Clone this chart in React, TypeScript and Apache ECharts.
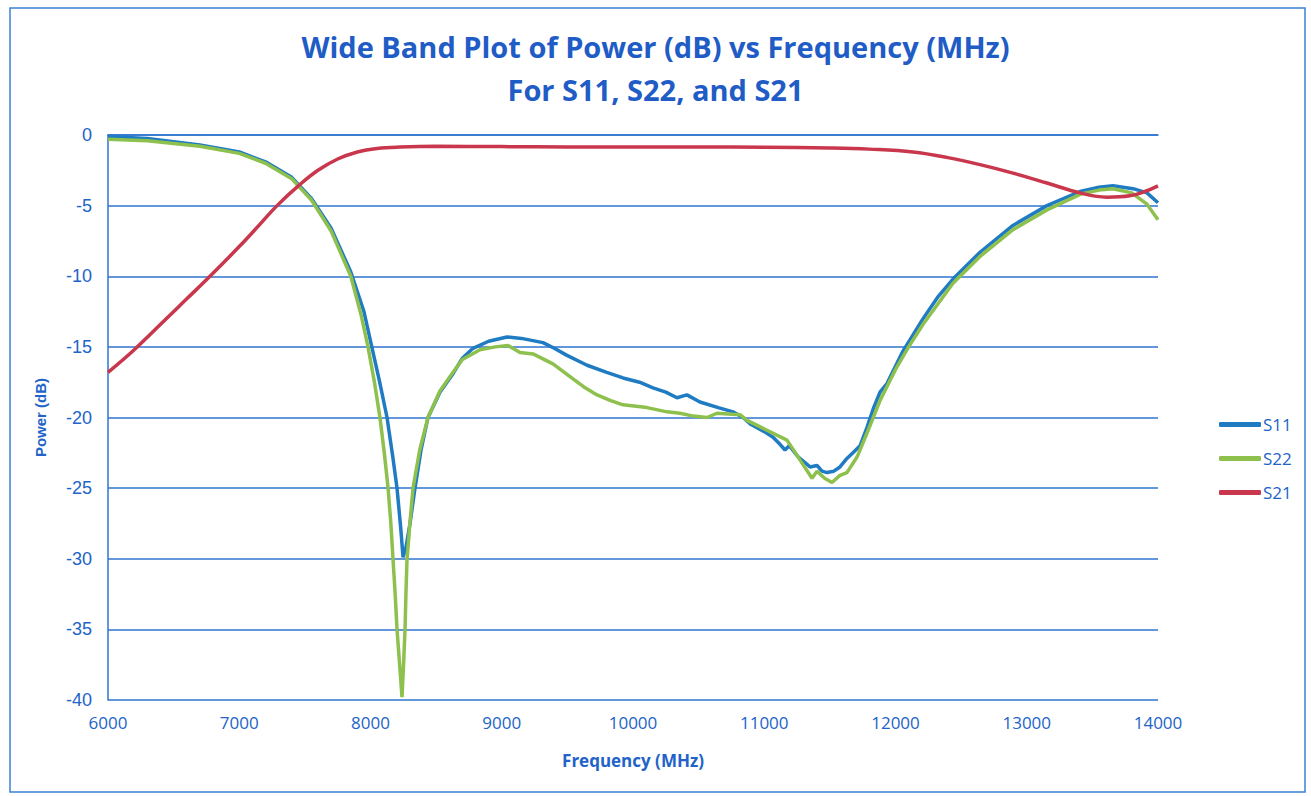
import React, { useEffect, useRef } from "react";
import * as echarts from "echarts";

const xTicks = [6000, 7000, 8000, 9000, 10000, 11000, 12000, 13000, 14000];
const yTicks = [0, -5, -10, -15, -20, -25, -30, -35, -40];

const s11Freq = [6000, 6300, 6700, 7000, 7200, 7400, 7550, 7700, 7850, 7950, 8010, 8070, 8126, 8170, 8202, 8230, 8248, 8270, 8301, 8339, 8385, 8438, 8530, 8629, 8700, 8781, 8900, 9040, 9150, 9314, 9400, 9497, 9650, 9800, 9924, 10050, 10152, 10250, 10335, 10411, 10510, 10650, 10762, 10838, 10900, 11000, 11067, 11120, 11158, 11190, 11260, 11349, 11402, 11440, 11478, 11530, 11577, 11630, 11676, 11730, 11783, 11830, 11882, 11935, 12057, 12210, 12320, 12438, 12644, 12895, 13154, 13406, 13550, 13657, 13810, 13916, 14000];
const s11Db = [-0.1, -0.25, -0.7, -1.2, -1.9, -3.0, -4.5, -6.6, -9.7, -12.5, -15.0, -17.5, -20, -22.8, -25, -27.8, -29.9, -29.2, -27.5, -25, -22.3, -20, -18.2, -16.9, -15.8, -15.1, -14.6, -14.3, -14.4, -14.7, -15.1, -15.6, -16.3, -16.8, -17.2, -17.5, -17.9, -18.2, -18.6, -18.4, -18.9, -19.3, -19.6, -20.0, -20.5, -21.0, -21.4, -21.9, -22.3, -22.0, -22.8, -23.5, -23.4, -23.8, -23.9, -23.8, -23.5, -22.9, -22.5, -22.0, -20.7, -19.4, -18.2, -17.6, -15.3, -13.0, -11.5, -10.2, -8.3, -6.4, -5.0, -4.0, -3.7, -3.6, -3.8, -4.1, -4.8];

const s22Freq = [6000, 6300, 6700, 7000, 7200, 7400, 7550, 7700, 7850, 7930, 7981, 8030, 8072, 8105, 8134, 8155, 8172, 8188, 8202, 8222, 8240, 8252, 8263, 8270, 8278, 8300, 8324, 8375, 8438, 8530, 8629, 8700, 8834, 8950, 9048, 9139, 9238, 9390, 9520, 9620, 9726, 9830, 9924, 10107, 10259, 10358, 10460, 10564, 10640, 10815, 10869, 11021, 11173, 11230, 11272, 11364, 11402, 11460, 11516, 11577, 11630, 11707, 11783, 11882, 12000, 12100, 12210, 12438, 12644, 12895, 13154, 13406, 13550, 13657, 13800, 13916, 14000];
const s22Db = [-0.3, -0.4, -0.8, -1.3, -2.0, -3.1, -4.6, -6.8, -10.0, -12.8, -15, -17.5, -20, -22.5, -25, -27.5, -30.1, -32.5, -35, -37.5, -39.8, -37.5, -35, -32.5, -30.1, -27.5, -25, -22.3, -20, -18.1, -16.8, -15.9, -15.2, -15.0, -14.9, -15.4, -15.5, -16.2, -17.1, -17.8, -18.4, -18.8, -19.1, -19.3, -19.6, -19.7, -19.9, -20.0, -19.7, -19.8, -20.2, -20.9, -21.6, -22.4, -23.0, -24.3, -23.8, -24.3, -24.6, -24.1, -23.9, -22.8, -21.1, -18.8, -16.6, -15.0, -13.4, -10.5, -8.6, -6.7, -5.3, -4.2, -3.9, -3.8, -4.1, -4.9, -6.0];

const s21Freq = [6000, 6200, 6434, 6600, 6777, 7000, 7150, 7288, 7463, 7600, 7750, 7900, 8050, 8225, 8500, 9000, 9500, 10000, 10500, 11000, 11500, 11800, 12133, 12400, 12644, 12895, 13154, 13406, 13611, 13786, 13900, 14000];
const s21Db = [-16.8, -15.2, -13.1, -11.6, -10.0, -7.9, -6.4, -5.0, -3.5, -2.5, -1.7, -1.2, -0.95, -0.85, -0.8, -0.82, -0.85, -0.85, -0.85, -0.87, -0.92, -1.0, -1.2, -1.6, -2.1, -2.7, -3.4, -4.1, -4.4, -4.3, -4.0, -3.6];

const zip = (xs: number[], ys: number[]) => xs.map((x, i) => [x, ys[i]]);

const BLUE_TEXT = "#2163c8";
const GRID_BLUE = "#2f74d0";
const C11 = "#1f7bc2";
const C22 = "#8dc04c";
const C21 = "#c9374c";

export default function App() {
  const ref = useRef<HTMLDivElement>(null);
  useEffect(() => {
    document.body.style.margin = "0";
    const chart = echarts.init(ref.current!, undefined, { renderer: "svg" });
    chart.setOption({
      animation: false,
      backgroundColor: "#ffffff",
      title: {
        text: "Wide Band Plot of Power (dB) vs Frequency (MHz)\nFor S11, S22, and S21",
        left: "center",
        top: 20,
        textStyle: {
          fontFamily: "Open Sans",
          fontWeight: 700,
          fontSize: 29,
          lineHeight: 43,
          color: "#1f5cc6",
        },
      },
      graphic: [
        {
          type: "rect",
          shape: { x: 10, y: 8, width: 1295, height: 784 },
          style: { fill: "none", stroke: "#3c7fd6", lineWidth: 1.5 },
          silent: true,
        },
      ],
      legend: {
        orient: "vertical",
        left: 1214,
        top: 411,
        itemWidth: 42,
        itemHeight: 5,
        itemGap: 17,
        textStyle: { fontFamily: "Open Sans", fontSize: 17, color: BLUE_TEXT, padding: [0, 0, 0, -3] },
        data: [
          { name: "S11", icon: "roundRect", itemStyle: { color: C11 } },
          { name: "S22", icon: "roundRect", itemStyle: { color: C22 } },
          { name: "S21", icon: "roundRect", itemStyle: { color: C21 } },
        ],
      },
      grid: { left: 108, right: 153, top: 135, bottom: 96 },
      xAxis: {
        type: "value",
        min: xTicks[0],
        max: xTicks[xTicks.length - 1],
        interval: 1000,
        name: "Frequency (MHz)",
        nameLocation: "middle",
        nameGap: 52,
        nameTextStyle: { fontFamily: "Open Sans", fontWeight: 700, fontSize: 17, color: BLUE_TEXT },
        axisLine: { show: true, lineStyle: { color: GRID_BLUE, width: 1.5 } },
        axisTick: { show: false },
        splitLine: { show: false },
        axisLabel: {
          fontFamily: "Open Sans",
          fontSize: 17,
          color: BLUE_TEXT,
          margin: 14,
          formatter: (v: number) => String(v),
        },
      },
      yAxis: {
        type: "value",
        min: yTicks[yTicks.length - 1],
        max: yTicks[0],
        interval: 5,
        name: "Power (dB)",
        nameLocation: "middle",
        nameGap: 60,
        nameTextStyle: { fontFamily: "Liberation Sans", fontWeight: 700, fontSize: 15, color: BLUE_TEXT },
        axisLine: { show: true, lineStyle: { color: GRID_BLUE, width: 1.5 } },
        axisTick: { show: false },
        splitLine: { show: true, lineStyle: { color: GRID_BLUE, width: 1.5 } },
        axisLabel: { fontFamily: "Liberation Sans", fontSize: 18, color: BLUE_TEXT, margin: 16 },
      },
      series: [
        {
          name: "S11",
          type: "line",
          data: zip(s11Freq, s11Db),
          showSymbol: false,
          symbol: "none",
          lineStyle: { color: C11, width: 3.5 },
          itemStyle: { color: C11 },
          z: 3,
        },
        {
          name: "S22",
          type: "line",
          data: zip(s22Freq, s22Db),
          showSymbol: false,
          symbol: "none",
          lineStyle: { color: C22, width: 3.5 },
          itemStyle: { color: C22 },
          z: 4,
        },
        {
          name: "S21",
          type: "line",
          data: zip(s21Freq, s21Db),
          smooth: 0.4,
          showSymbol: false,
          symbol: "none",
          lineStyle: { color: C21, width: 3.5 },
          itemStyle: { color: C21 },
          z: 5,
        },
      ],
    });
    return () => chart.dispose();
  }, []);
  return <div ref={ref} style={{ width: 1311, height: 796 }} />;
}
